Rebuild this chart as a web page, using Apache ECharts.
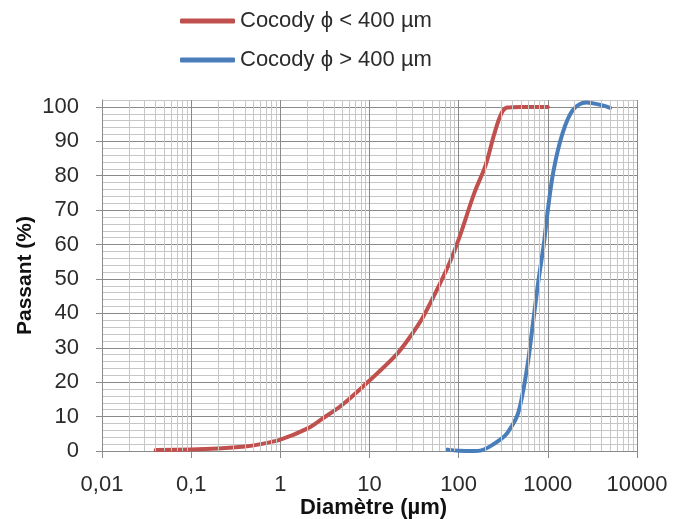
<!DOCTYPE html>
<html>
<head>
<meta charset="utf-8">
<script src="https://cdn.jsdelivr.net/npm/echarts@6/dist/echarts.min.js"></script>
<style>html,body{margin:0;padding:0;background:#fff}#c{width:673px;height:519px}</style>
</head>
<body>
<div id="c"></div>
<script>
// ---- data ----
const seriesNames = ['Cocody \u03D5 < 400 \u00B5m', 'Cocody \u03D5 > 400 \u00B5m'];
const fineX = [0.04, 0.1, 0.2, 0.4, 0.6, 1, 2, 3, 5, 10, 20, 30, 40, 60, 80, 100, 150, 200, 250, 300, 350, 500, 1000];
const fineY = [0.3, 0.4, 0.7, 1.3, 2, 3.3, 6.5, 9.5, 13.5, 20.5, 28, 34, 39, 48, 55, 61.5, 75, 83, 92, 98, 99.8, 100, 100];
const coarseX = [75, 100, 150, 180, 220, 300, 350, 450, 520, 600, 680, 780, 900, 1000, 1150, 1450, 1900, 2700, 4000, 5000];
const coarseY = [0.4, 0.1, 0, 0.2, 1.2, 3.5, 5.2, 10, 16.5, 26, 37, 49, 60, 70, 81, 92, 99, 101.3, 100.5, 99.7];
const xTickValues = [0.01, 0.1, 1, 10, 100, 1000, 10000];
const xTickLabels = ['0,01', '0,1', '1', '10', '100', '1000', '10000'];
const yTickValues = [0, 10, 20, 30, 40, 50, 60, 70, 80, 90, 100];
const xMinorGrid = [];
for (let d = 0; d < xTickValues.length - 1; d++) {
  for (let k = 2; k <= 9; k++) xMinorGrid.push(+(xTickValues[d] * k).toPrecision(6));
}
const xName = 'Diamètre (µm)';
const yName = 'Passant (%)';

const FONT = "'Liberation Sans', Arial, sans-serif";
const MAJOR = '#8a8a8a', MINOR = '#c6c6c6', TXT = '#2b2b2b';

const chart = echarts.init(document.getElementById('c'), null, {renderer: 'canvas'});
chart.setOption({
  animation: false,
  textStyle: {fontFamily: FONT},
  legend: {
    data: seriesNames,
    orient: 'vertical',
    left: 175, top: 4,
    icon: 'roundRect',
    itemWidth: 55, itemHeight: 5,
    itemGap: 15,
    textStyle: {fontFamily: FONT, fontSize: 22, lineHeight: 24, color: TXT}
  },
  grid: {left: 102, right: 36, top: 100, bottom: 68, outerBoundsMode: 'none', containLabel: false},
  xAxis: {
    type: 'log', logBase: 10, min: 0.01, max: 10000,
    name: xName, nameLocation: 'middle', nameGap: 46, nameMoveOverlap: false,
    nameTextStyle: {fontFamily: FONT, fontSize: 22, fontWeight: 'bold', color: '#111', padding: [0, 0, 0, 8]},
    axisLine: {show: true, onZero: false, lineStyle: {color: MAJOR, width: 1}},
    axisTick: {show: true, length: 7, lineStyle: {color: MAJOR}},
    axisLabel: {
      fontFamily: FONT, fontSize: 22, color: TXT, margin: 23,
      formatter: v => {
        const i = xTickValues.findIndex(t => Math.abs(Math.log10(t) - Math.log10(v)) < 1e-6);
        return i >= 0 ? xTickLabels[i] : '';
      }
    },
    splitLine: {show: true, lineStyle: {color: MAJOR, width: 1}},
    minorTick: {show: false}, minorSplitLine: {show: false}
  },
  yAxis: [{
    type: 'value', min: 0, max: 102, interval: 2,
    axisLine: {show: true, lineStyle: {color: MAJOR, width: 1}},
    axisTick: {show: false},
    axisLabel: {show: false},
    splitLine: {show: true, lineStyle: {color: [MAJOR, MINOR, MINOR, MINOR, MINOR], width: 1}}
  }, {
    type: 'value', min: 0, max: 102, interval: 10, position: 'left',
    name: yName, nameLocation: 'middle', nameGap: 66, nameRotate: 90, nameMoveOverlap: false,
    nameTextStyle: {fontFamily: FONT, fontSize: 21, fontWeight: 'bold', color: '#111'},
    axisLine: {show: false},
    axisTick: {show: true, length: 6, lineStyle: {color: MAJOR}, customValues: yTickValues},
    axisLabel: {fontFamily: FONT, fontSize: 22, color: TXT, margin: 23, customValues: yTickValues},
    splitLine: {show: false}
  }],
  series: [{
    name: 'grid-minor-x', type: 'line', data: [], z: 1, silent: true,
    markLine: {
      silent: true, symbol: ['none', 'none'], animation: false,
      label: {show: false},
      lineStyle: {color: MINOR, width: 1, type: 'solid'},
      emphasis: {disabled: true},
      data: xMinorGrid.map(v => ({xAxis: v}))
    }
  }, {
    name: seriesNames[0], type: 'line', z: 3,
    data: fineX.map((x, i) => [x, fineY[i]]),
    smooth: 0.35, symbol: 'none',
    lineStyle: {color: '#c0504d', width: 4, cap: 'round'},
    itemStyle: {color: '#c0504d'}
  }, {
    name: seriesNames[1], type: 'line', z: 3,
    data: coarseX.map((x, i) => [x, coarseY[i]]),
    smooth: 0.35, symbol: 'none',
    lineStyle: {color: '#4a7ebb', width: 4, cap: 'round'},
    itemStyle: {color: '#4a7ebb'}
  }]
});
</script>
</body>
</html>
